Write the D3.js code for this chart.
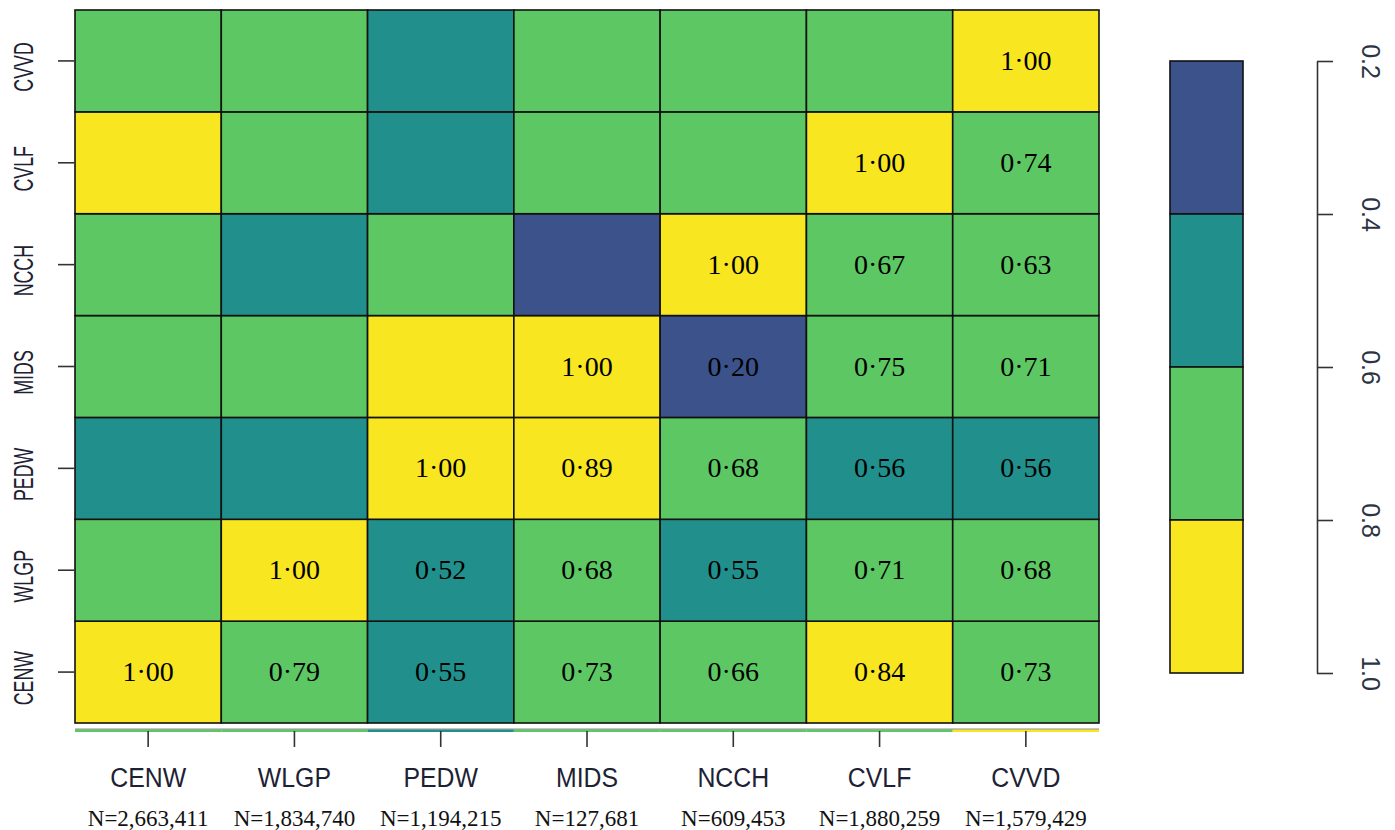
<!DOCTYPE html>
<html>
<head>
<meta charset="utf-8">
<script src="https://cdn.jsdelivr.net/npm/d3@7"></script>
<style>
  html, body { margin: 0; padding: 0; background: #ffffff; }
  svg { display: block; }
</style>
</head>
<body>
<svg id="chart" width="1395" height="830"></svg>
<script>
// Region codes, in column order (left to right) and row order (bottom to top)
const regions = ["CENW", "WLGP", "PEDW", "MIDS", "NCCH", "CVLF", "CVVD"];
// Sample size shown under each column
const sampleSizes = ["N=2,663,411", "N=1,834,740", "N=1,194,215", "N=127,681", "N=609,453", "N=1,880,259", "N=1,579,429"];

// Correlation rows (one per region, upper part of the symmetric matrix)
const rowCENW = [1.00, 0.79, 0.55, 0.73, 0.66, 0.84, 0.73];
const rowWLGP = [null, 1.00, 0.52, 0.68, 0.55, 0.71, 0.68];
const rowPEDW = [null, null, 1.00, 0.89, 0.68, 0.56, 0.56];
const rowMIDS = [null, null, null, 1.00, 0.20, 0.75, 0.71];
const rowNCCH = [null, null, null, null, 1.00, 0.67, 0.63];
const rowCVLF = [null, null, null, null, null, 1.00, 0.74];
const rowCVVD = [null, null, null, null, null, null, 1.00];

// Colour key
const breaks = [0.2, 0.4, 0.6, 0.8, 1.0];
const binColours = ["#3B528B", "#21908C", "#5DC863", "#F8E621"];
const keyTicks = [0.2, 0.4, 0.6, 0.8, 1.0];

const upper = [rowCENW, rowWLGP, rowPEDW, rowMIDS, rowNCCH, rowCVLF, rowCVVD];
const corr = (i, j) => (j >= i ? upper[i][j] : upper[j][i]);

const cells = [];
regions.forEach((rowName, i) => {
  regions.forEach((colName, j) => {
    cells.push({ row: rowName, col: colName, value: corr(i, j), labelled: j >= i });
  });
});

const svg = d3.select("#chart");

const x = d3.scaleBand().domain(regions).range([75, 1099]);
const y = d3.scaleBand().domain(regions.slice().reverse()).range([10, 723]);
const colour = d3.scaleThreshold().domain(breaks.slice(1, -1)).range(binColours);

// Heatmap cells
svg.append("g")
  .selectAll("rect")
  .data(cells)
  .join("rect")
  .attr("x", d => x(d.col))
  .attr("y", d => y(d.row))
  .attr("width", x.bandwidth())
  .attr("height", y.bandwidth())
  .attr("fill", d => colour(d.value))
  .attr("stroke", "#111")
  .attr("stroke-width", 1.6);

// Value labels on the diagonal and to its right
svg.append("g")
  .selectAll("text")
  .data(cells.filter(d => d.labelled))
  .join("text")
  .attr("x", d => x(d.col) + x.bandwidth() / 2)
  .attr("y", d => y(d.row) + y.bandwidth() / 2 + 9)
  .attr("text-anchor", "middle")
  .attr("font-family", "'Liberation Serif', 'Times New Roman', serif")
  .attr("font-size", 28)
  .attr("fill", "#000")
  .text(d => d3.format(".2f")(d.value).replace(".", "\u00B7"));

// Thin strip under the grid repeating the top row colours
const topRow = regions[regions.length - 1];
const strip = svg.append("g");
strip.selectAll("rect")
  .data(cells.filter(d => d.row === topRow))
  .join("rect")
  .attr("x", d => x(d.col))
  .attr("y", 729.5)
  .attr("width", x.bandwidth())
  .attr("height", 2.5)
  .attr("fill", d => colour(d.value));
strip.append("line")
  .attr("x1", 75).attr("x2", 1099)
  .attr("y1", 729).attr("y2", 729)
  .attr("stroke", "#333").attr("stroke-width", 0.8).attr("opacity", 0.7);

// Bottom axis
const xAxis = svg.append("g")
  .attr("transform", "translate(0,731)")
  .call(d3.axisBottom(x).tickSize(16).tickSizeOuter(0).tickFormat(""));
xAxis.select(".domain").remove();
xAxis.selectAll(".tick line").attr("stroke", "#333").attr("stroke-width", 1.6);

svg.append("g")
  .selectAll("text")
  .data(regions)
  .join("text")
  .attr("transform", d => `translate(${x(d) + x.bandwidth() / 2},787) scale(0.92,1)`)
  .attr("text-anchor", "middle")
  .attr("font-family", "'Liberation Sans', Arial, sans-serif")
  .attr("font-size", 27)
  .attr("fill", "#1c2233")
  .text(d => d);

svg.append("g")
  .selectAll("text")
  .data(sampleSizes)
  .join("text")
  .attr("x", (d, i) => x(regions[i]) + x.bandwidth() / 2)
  .attr("y", 826)
  .attr("text-anchor", "middle")
  .attr("font-family", "'Liberation Serif', 'Times New Roman', serif")
  .attr("font-size", 23)
  .attr("fill", "#111")
  .text(d => d);

// Left axis
const yAxis = svg.append("g")
  .attr("transform", "translate(75,0)")
  .call(d3.axisLeft(y).tickSize(17).tickSizeOuter(0).tickFormat(""));
yAxis.select(".domain").remove();
yAxis.selectAll(".tick line").attr("stroke", "#333").attr("stroke-width", 1.6);

svg.append("g")
  .selectAll("text")
  .data(regions)
  .join("text")
  .attr("transform", d => `translate(33,${y(d) + y.bandwidth() / 2 + 6}) rotate(-90) scale(0.66,1)`)
  .attr("text-anchor", "middle")
  .attr("font-family", "'Liberation Sans', Arial, sans-serif")
  .attr("font-size", 27)
  .attr("fill", "#1c2233")
  .text(d => d);

// Colour key
const keyScale = d3.scaleLinear().domain([breaks[0], breaks[breaks.length - 1]]).range([61, 673]);
const bins = d3.pairs(breaks).map((p, i) => ({ lo: p[0], hi: p[1], fill: binColours[i] }));

svg.append("g")
  .selectAll("rect")
  .data(bins)
  .join("rect")
  .attr("x", 1170)
  .attr("y", d => keyScale(d.lo))
  .attr("width", 73)
  .attr("height", d => keyScale(d.hi) - keyScale(d.lo))
  .attr("fill", d => d.fill)
  .attr("stroke", "#111")
  .attr("stroke-width", 1.6);

const keyAxis = svg.append("g")
  .attr("transform", "translate(1317,0)")
  .call(d3.axisRight(keyScale).tickValues(keyTicks).tickSize(16).tickSizeOuter(0).tickFormat(d3.format(".1f")));
keyAxis.select(".domain").attr("stroke", "#333").attr("stroke-width", 1.6);
keyAxis.selectAll(".tick line").attr("stroke", "#333").attr("stroke-width", 1.6);
keyAxis.selectAll(".tick text")
  .attr("x", null).attr("dy", null)
  .attr("transform", "translate(45,0) rotate(90)")
  .attr("text-anchor", "middle")
  .attr("font-family", "'Liberation Sans', Arial, sans-serif")
  .attr("font-size", 25)
  .attr("fill", "#2b3445");
</script>
</body>
</html>
